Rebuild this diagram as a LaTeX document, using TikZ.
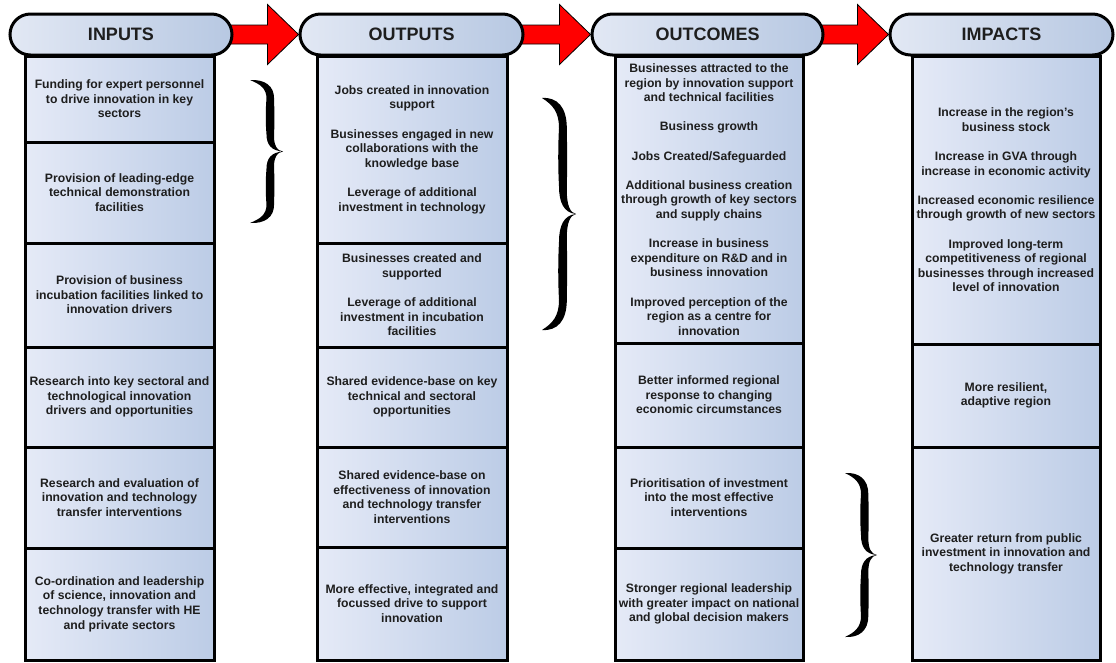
\documentclass[tikz,border=0pt]{standalone}
\usepackage{fontspec}
\setmainfont{Liberation Sans}
\usetikzlibrary{calc,backgrounds}

\definecolor{cellL}{HTML}{E5EAF7}
\definecolor{cellR}{HTML}{BCCCE6}
\definecolor{hdrL}{HTML}{E2E8F4}
\definecolor{hdrR}{HTML}{B7C8E2}
\definecolor{ink}{HTML}{1E1E1E}
\definecolor{flowred}{HTML}{FF0000}

% tapered curly brace drawn in a unit box (point on the right)
\tikzset{curly/.pic={
  \fill[black] (0,0) .. controls (0.45,-0.005) and (0.73,0.04) .. (0.73,0.13)
    .. controls (0.74,0.22) and (0.74,0.31) .. (0.73,0.40)
    .. controls (0.73,0.46) and (0.82,0.495) .. (1,0.5)
    .. controls (0.82,0.505) and (0.73,0.54) .. (0.73,0.60)
    .. controls (0.74,0.69) and (0.74,0.78) .. (0.73,0.87)
    .. controls (0.73,0.96) and (0.45,1.005) .. (0,1)
    .. controls (0.32,0.97) and (0.50,0.94) .. (0.50,0.87)
    .. controls (0.47,0.79) and (0.47,0.70) .. (0.50,0.62)
    .. controls (0.50,0.55) and (0.64,0.505) .. (1,0.5)
    .. controls (0.64,0.495) and (0.50,0.45) .. (0.50,0.38)
    .. controls (0.47,0.30) and (0.47,0.21) .. (0.50,0.13)
    .. controls (0.50,0.06) and (0.32,0.03) .. (0,0) -- cycle;
}}

\begin{document}
\begin{tikzpicture}[x=1pt,y=-1pt,
  cell/.style={draw=black, line width=3pt, left color=cellL, right color=cellR,
    text=ink, font=\bfseries\fontsize{12.2}{14.6}\selectfont, align=center, inner sep=0pt},
  hdr/.style={draw=black, line width=3pt, rounded corners=20.5pt, left color=hdrL,
    right color=hdrR, minimum height=41pt, text=ink,
    font=\bfseries\fontsize{18}{20}\selectfont, inner sep=0pt},
  flow/.style={fill=flowred, draw=black, line width=0.8pt, line join=miter}]

\useasboundingbox (0,0) rectangle (1116,662);

% ---------- INPUTS ----------
\node[cell, minimum width=189, minimum height=86]  (i1) at (119.5,99)   {Funding for expert personnel\\to drive innovation in key\\sectors};
\node[cell, minimum width=189, minimum height=101] (i2) at (119.5,192.5) {Provision of leading-edge\\technical demonstration\\facilities};
\node[cell, minimum width=189, minimum height=104] (i3) at (119.5,295)  {Provision of business\\incubation facilities linked to\\innovation drivers};
\node[cell, minimum width=189, minimum height=100] (i4) at (119.5,397)  {Research into key sectoral and\\technological innovation\\drivers and opportunities};
\node[cell, minimum width=189, minimum height=101] (i5) at (119.5,497.5) {Research and evaluation of\\innovation and technology\\transfer interventions};
\node[cell, minimum width=189, minimum height=112] (i6) at (119.5,604)  {Co-ordination and leadership\\of science, innovation and\\technology transfer with HE\\and private sectors};

% ---------- OUTPUTS ----------
\node[cell, minimum width=190, minimum height=187] (o1) at (412,149.5) {Jobs created in innovation\\support\\[14.6pt]Businesses engaged in new\\collaborations with the\\knowledge base\\[14.6pt]Leverage of additional\\investment in technology};
\node[cell, minimum width=190, minimum height=104] (o2) at (412,295)   {Businesses created and\\supported\\[14.6pt]Leverage of additional\\investment in incubation\\facilities};
\node[cell, minimum width=190, minimum height=100] (o3) at (412,397)   {Shared evidence-base on key\\technical and sectoral\\opportunities};
\node[cell, minimum width=190, minimum height=100] (o4) at (412,497)   {Shared evidence-base on\\effectiveness of innovation\\and technology transfer\\interventions};
\node[cell, minimum width=190, minimum height=113] (o5) at (412,603.5) {More effective, integrated and\\focussed drive to support\\innovation};

% ---------- OUTCOMES ----------
\node[cell, minimum width=188, minimum height=287] (u1) at (709,199.5) {Businesses attracted to the\\region by innovation support\\and technical facilities\\[14.6pt]Business growth\\[14.6pt]Jobs Created/Safeguarded\\[14.6pt]Additional business creation\\through growth of key sectors\\and supply chains\\[14.6pt]Increase in business\\expenditure on R\&D and in\\business innovation\\[14.6pt]Improved perception of the\\region as a centre for\\innovation};
\node[cell, minimum width=188, minimum height=104] (u2) at (709,395)   {Better informed regional\\response to changing\\economic circumstances};
\node[cell, minimum width=188, minimum height=101] (u3) at (709,497.5) {Prioritisation of investment\\into the most effective\\interventions};
\node[cell, minimum width=188, minimum height=112] (u4) at (709,604)   {Stronger regional leadership\\with greater impact on national\\and global decision makers};

% ---------- IMPACTS ----------
\node[cell, minimum width=188, minimum height=288] (m1) at (1006,200)   {Increase in the region’s\\business stock\\[14.6pt]Increase in GVA through\\increase in economic activity\\[14.6pt]Increased economic resilience\\through growth of new sectors\\[14.6pt]Improved long-term\\competitiveness of regional\\businesses through increased\\level of innovation};
\node[cell, minimum width=188, minimum height=103] (m2) at (1006,395.5) {More resilient,\\adaptive region};
\node[cell, minimum width=188, minimum height=213] (m3) at (1006,553.5) {Greater return from public\\investment in innovation and\\technology transfer};

% ---------- column headers ----------
\node[hdr, minimum width=222] (h1) at (121,34.5)    {INPUTS};
\node[hdr, minimum width=223] (h2) at (411.5,34.5)  {OUTPUTS};
\node[hdr, minimum width=231] (h3) at (707.5,34.5)  {OUTCOMES};
\node[hdr, minimum width=223] (h4) at (1001.5,34.5) {IMPACTS};

% ---------- block arrows between headers ----------
\begin{scope}[on background layer]
  \foreach \a/\b in {h1/h2, h2/h3, h3/h4} {
    \draw[flow] ($(\a.east)+(-4,-9.5)$) -- ($(\b.west)+(-31,-9.5)$)
      -- ($(\b.west)+(-31,-30)$) -- (\b.west) -- ($(\b.west)+(-31,30)$)
      -- ($(\b.west)+(-31,9.5)$) -- ($(\a.east)+(-4,9.5)$) -- cycle;
  }
\end{scope}

% ---------- grouping braces ----------
\pic[xscale=33, yscale=143] at (250,80)  {curly};
\pic[xscale=34, yscale=232] at (542,98)  {curly};
\pic[xscale=32, yscale=164] at (845,473) {curly};

\end{tikzpicture}
\end{document}
